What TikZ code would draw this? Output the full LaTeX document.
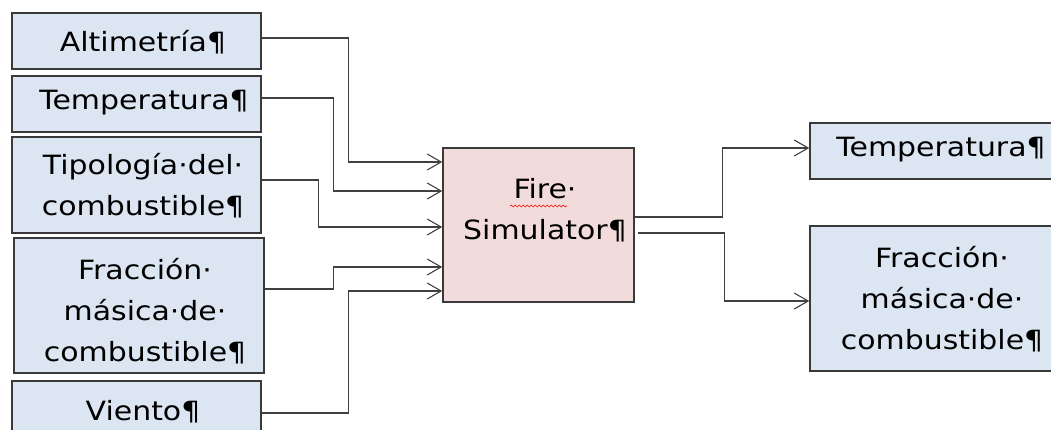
\documentclass[tikz,border=0pt]{standalone}
\usepackage{fontspec}
\setmainfont{DejaVu Sans}[FakeStretch=1.13]
\usetikzlibrary{arrows.meta,decorations.pathmorphing}
\definecolor{boxblue}{HTML}{DCE6F2}
\definecolor{boxpink}{HTML}{F2DCDB}
\definecolor{edgecol}{HTML}{3A3A3A}
\definecolor{linecol}{HTML}{404040}
\begin{document}
\begin{tikzpicture}[x=1pt,y=-1pt,
  inbox/.style={draw=edgecol, line width=1.4pt, fill=boxblue, inner sep=0pt},
  simbox/.style={draw=edgecol, line width=1.4pt, fill=boxpink, inner sep=0pt},
  lbl/.style={inner sep=0pt, align=center, font=\fontsize{26.5}{41}\selectfont},
  conn/.style={draw=linecol, line width=1.2pt, -{Straight Barb[length=14pt,width=16pt,line width=1.1pt]}}
]
\useasboundingbox (0,0) rectangle (1051,430);
% input boxes
\node[inbox, minimum width=249pt, minimum height=56pt] (alt) at (136.5,41) {};
\node[inbox, minimum width=249pt, minimum height=56pt] (tem) at (136.5,104) {};
\node[inbox, minimum width=249pt, minimum height=96pt] (tip) at (136.5,185) {};
\node[inbox, minimum width=250pt, minimum height=135pt] (fra) at (139,305.5) {};
\node[inbox, minimum width=249pt, minimum height=64pt] (vie) at (136.5,413) {};
% simulator
\node[simbox, minimum width=191pt, minimum height=154pt] (sim) at (538.5,225) {};
% output boxes
\node[inbox, minimum width=243pt, minimum height=56pt] (otem) at (931.5,151) {};
\node[inbox, minimum width=243pt, minimum height=145pt] (ofra) at (931.5,298.5) {};
% labels
\node[lbl] (tAlt) at (143,42) {Altimetría¶};
\node[lbl] (tTem) at (144,103) {Temperatura¶};
\node[lbl] (tTip) at (143,186) {Tipología·del·\\combustible¶};
\node[lbl] (tFra) at (145,311) {Fracción·\\másica·de·\\combustible¶};
\node[lbl] (tVie) at (143,412) {Viento¶};
\node[lbl] (tSim) at (545,210) {Fire·\\Simulator¶};
\node[lbl] (tOtem) at (941,150) {Temperatura¶};
\node[lbl] (tOfra) at (942,299) {Fracción·\\másica·de·\\combustible¶};
% spell-check underline
\draw[red, line width=0.6pt, decorate, decoration={snake, amplitude=0.9pt, segment length=4pt}]
  ([xshift=-35pt,yshift=4pt]tSim.center) -- ([xshift=22pt,yshift=4pt]tSim.center);
% connectors in
\draw[conn] ([yshift=3pt]alt.east) -- ++(87,0) |- ([yshift=63pt]sim.west);
\draw[conn] ([yshift=6pt]tem.east) -- ++(72,0) |- ([yshift=34pt]sim.west);
\draw[conn] ([yshift=5pt]tip.east) -- ++(57,0) |- ([yshift=-2pt]sim.west);
\draw[conn] ([yshift=16.5pt]fra.east) -- ++(69,0) |- ([yshift=-42pt]sim.west);
\draw[conn] (vie.east) -- ++(87,0) |- ([yshift=-66pt]sim.west);
% connectors out
\draw[conn] ([yshift=8pt]sim.east) -- ++(88,0) |- ([yshift=3pt]otem.west);
\draw[conn] ([xshift=3pt,yshift=-8pt]sim.east) -- ++(87,0) |- ([yshift=-2.5pt]ofra.west);
\end{tikzpicture}
\end{document}
